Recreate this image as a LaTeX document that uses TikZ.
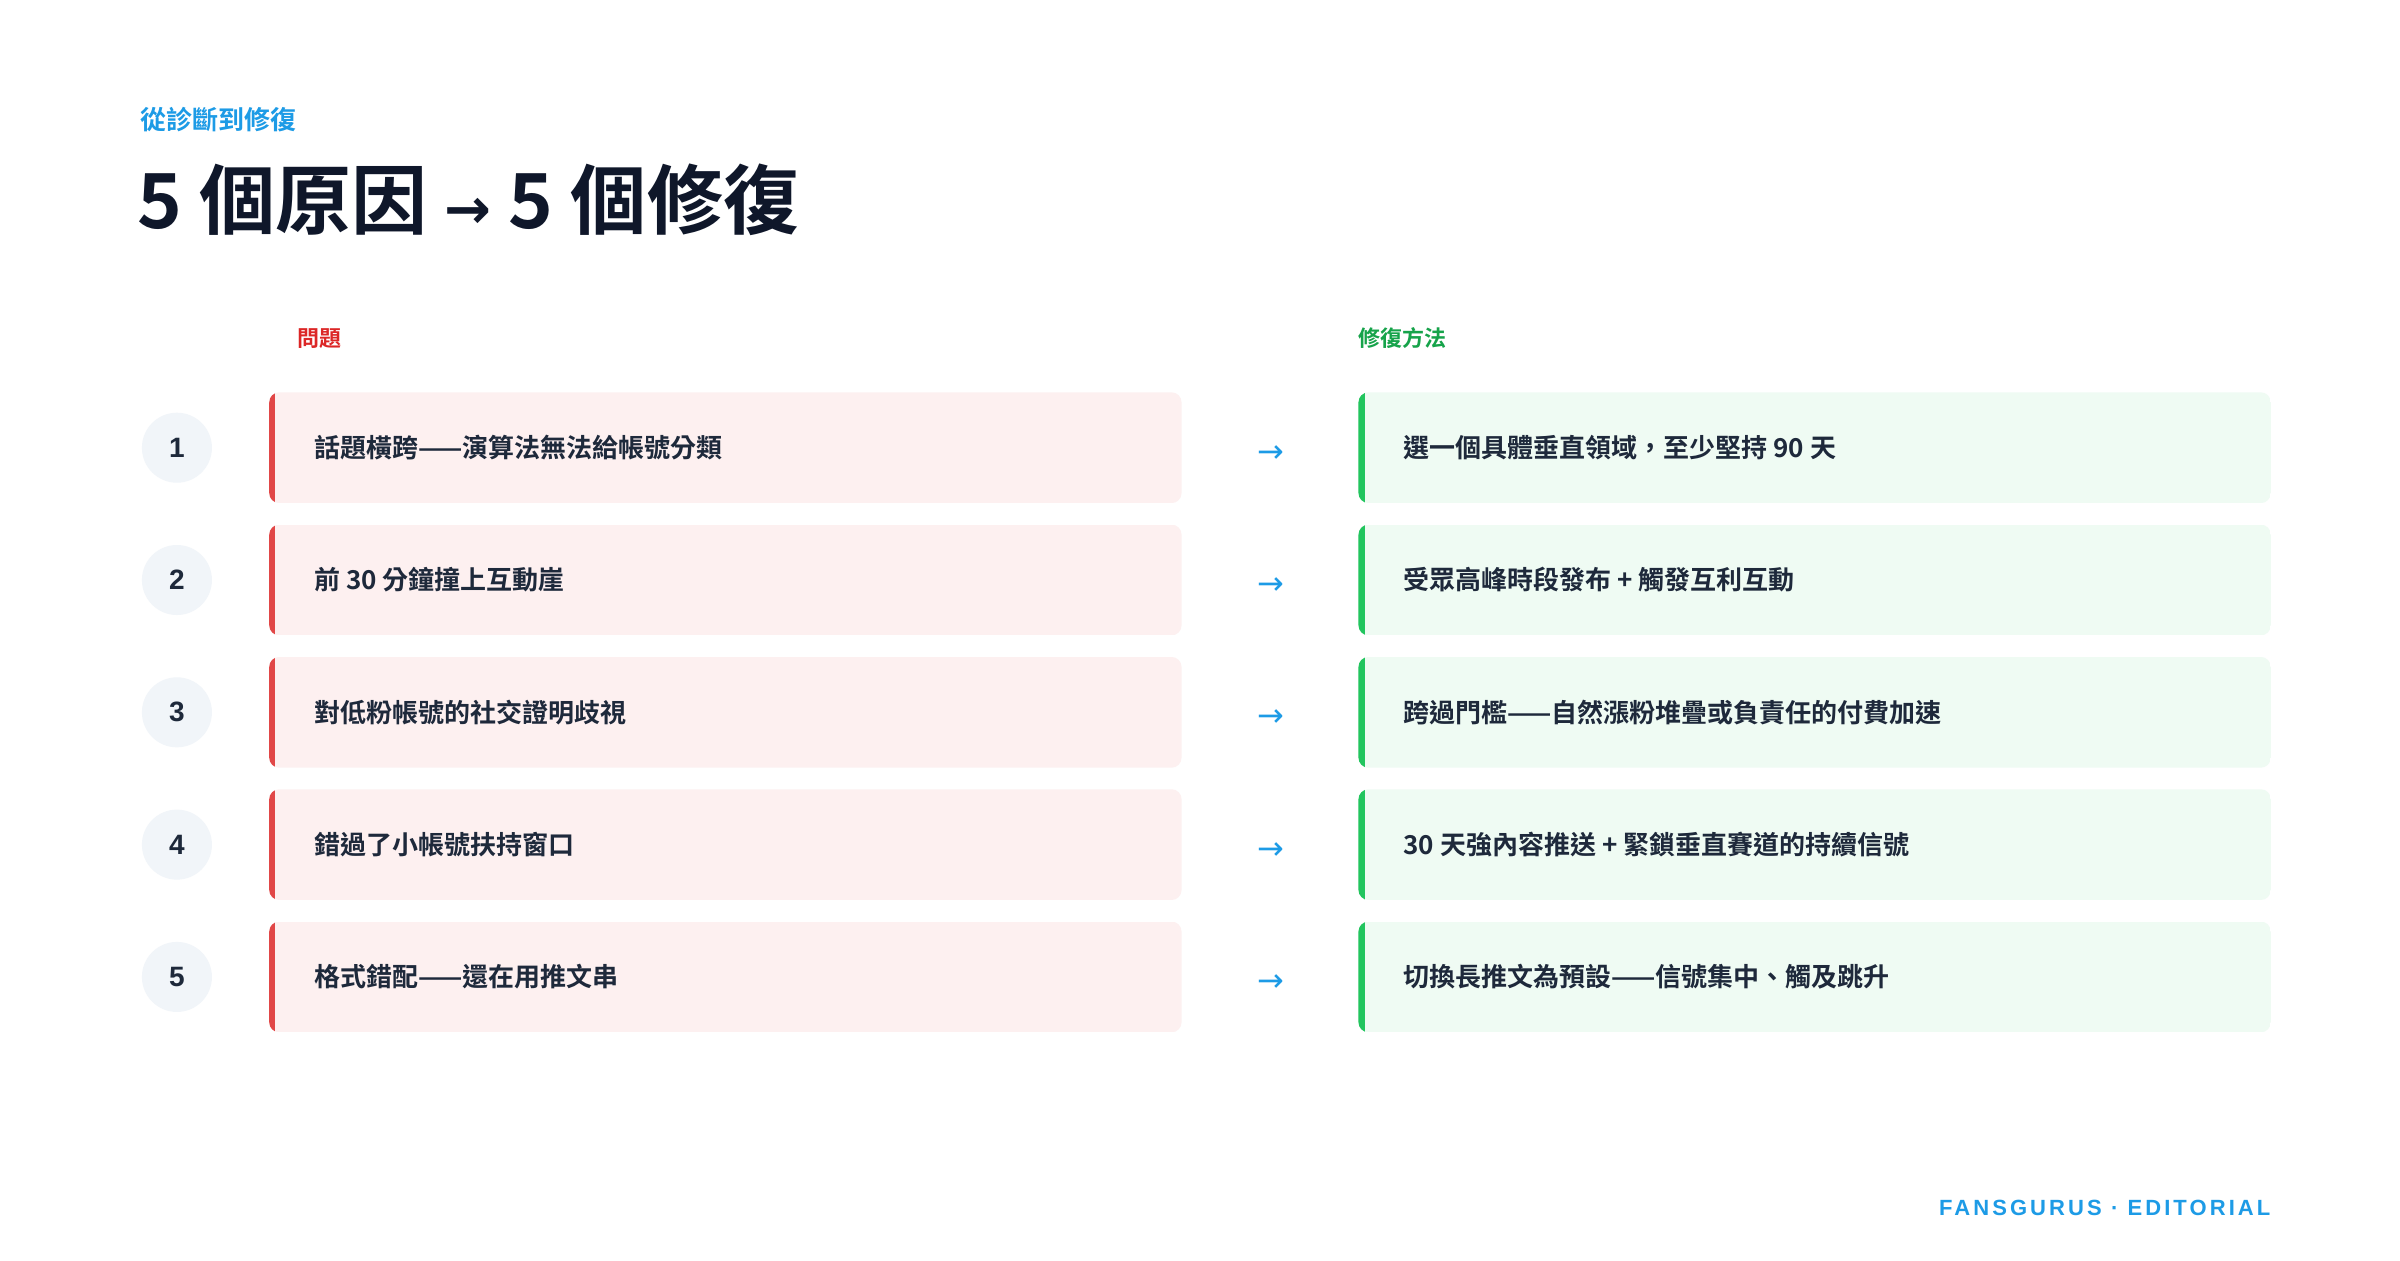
\documentclass[tikz,border=0pt]{standalone}
\usepackage{fontspec}
\setmainfont{Liberation Sans}
\newfontfamily\cjk{Noto Sans CJK TC}[BoldFont={* Bold}]
\newfontfamily\footfont[LetterSpace=14]{Liberation Sans}
\usetikzlibrary{positioning}
\definecolor{ink}{RGB}{15,23,42}
\definecolor{rowink}{RGB}{30,41,59}
\definecolor{accent}{RGB}{29,155,230}
\definecolor{probred}{RGB}{220,38,38}
\definecolor{probfill}{RGB}{253,240,240}
\definecolor{fixgreen}{RGB}{22,163,74}
\definecolor{fixbar}{RGB}{34,197,94}
\definecolor{fixfill}{RGB}{239,251,243}
\definecolor{numfill}{RGB}{241,245,249}
\tikzset{
  rowtext/.style={anchor=west,inner sep=0pt,text=rowink,font=\cjk\bfseries\fontsize{13}{15}\selectfont},
  numdot/.style={circle,fill=numfill,minimum size=35pt,inner sep=0pt,text=rowink,font=\bfseries\fontsize{14}{16}\selectfont},
  head/.style={anchor=west,inner sep=0pt,font=\cjk\bfseries\fontsize{11}{13}\selectfont}
}
\begin{document}
\begin{tikzpicture}[x=0.769pt,y=-0.769pt]
\path[use as bounding box,fill=white] (0,0) rectangle (1560,819);

\node[head,text=accent,font=\cjk\bfseries\fontsize{13}{15}\selectfont] (kicker) at (91,78) {從診斷到修復};
\node[anchor=west,inner sep=0pt,text=ink,font=\cjk\bfseries\fontsize{38}{44}\selectfont] (title) at (89,130) {5 個原因 {\fontspec{DejaVu Sans}\fontsize{28}{30}\selectfont →} 5 個修復};

\node[head,text=probred] (probhead) at (193,220) {問題};
\node[head,text=fixgreen] (fixhead) at (883,220) {修復方法};

\foreach \i/\prob/\fix in {
  1/話題橫跨——演算法無法給帳號分類/選一個具體垂直領域，至少堅持 90 天,
  2/前 30 分鐘撞上互動崖/受眾高峰時段發布 + 觸發互利互動,
  3/對低粉帳號的社交證明歧視/跨過門檻——自然漲粉堆疊或負責任的付費加速,
  4/錯過了小帳號扶持窗口/30 天強內容推送 + 緊鎖垂直賽道的持續信號,
  5/格式錯配——還在用推文串/切換長推文為預設——信號集中、觸及跳升}{
  \pgfmathsetmacro{\yc}{291+86*(\i-1)}
  % problem card
  \begin{scope}
  \path[clip,rounded corners=5] (175,\yc-36) rectangle (768,\yc+36);
  \fill[probfill] (175,\yc-36) rectangle (768,\yc+36);
  \fill[probred!85!white] (175,\yc-36) rectangle (179,\yc+36);
  \end{scope}
  % fix card
  \begin{scope}
  \path[clip,rounded corners=5] (883,\yc-36) rectangle (1476,\yc+36);
  \fill[fixfill] (883,\yc-36) rectangle (1476,\yc+36);
  \fill[fixbar] (883,\yc-36) rectangle (887,\yc+36);
  \end{scope}
  \node[numdot] (n\i) at (115,\yc) {\i};
  \node[rowtext] (p\i) at (204,\yc) {\prob};
  \node[text=accent,inner sep=0pt,font=\fontspec{DejaVu Sans}\fontsize{16}{18}\selectfont] (a\i) at (826,\yc+4) {→};
  \node[rowtext] (f\i) at (912,\yc) {\fix};
}

\node[anchor=east,inner sep=0pt,text=accent,font=\footfont\bfseries\fontsize{11}{13}\selectfont] (foot) at (1476,785) {FANSGURUS · EDITORIAL};
\end{tikzpicture}
\end{document}
